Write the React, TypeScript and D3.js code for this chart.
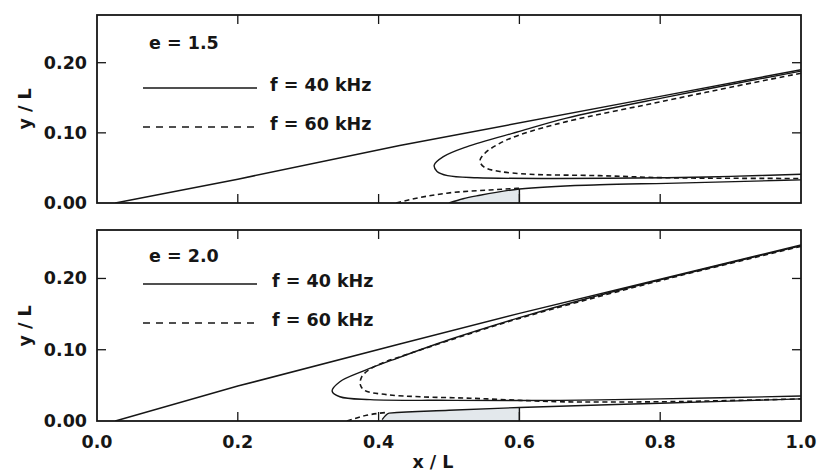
import React from 'react';
import * as d3 from 'd3';

type Pt = [number, number];

// ---- axes / labels ----
const xTicks = [0, 0.2, 0.4, 0.6, 0.8, 1.0];
const yTicks = [0, 0.1, 0.2];
const xTickLabels = ['0.0', '0.2', '0.4', '0.6', '0.8', '1.0'];
const yTickLabels = ['0.00', '0.10', '0.20'];
const panelTitles = ['e = 1.5', 'e = 2.0'];
const legendLabels = ['f = 40 kHz', 'f = 60 kHz'];
const xLabel = 'x / L';
const yLabel = 'y / L';

// ---- e = 1.5 panel ----
const wedgeE15: Pt[] = [[0.026, 0], [0.2, 0.034], [0.43, 0.082], [0.8, 0.152], [1.0, 0.19]];
const loop40E15: Pt[] = [[1.0, 0.188], [0.9, 0.169], [0.809, 0.151], [0.667, 0.121], [0.6, 0.102], [0.525, 0.080], [0.492, 0.066], [0.479, 0.054], [0.483, 0.045], [0.498, 0.039], [0.54, 0.036], [0.65, 0.035], [0.809, 0.036], [0.9, 0.038], [1.0, 0.041]];
const loop60E15: Pt[] = [[1.0, 0.185], [0.9, 0.165], [0.809, 0.146], [0.667, 0.116], [0.6, 0.097], [0.572, 0.085], [0.551, 0.071], [0.544, 0.060], [0.55, 0.051], [0.572, 0.045], [0.615, 0.041], [0.714, 0.039], [0.809, 0.036], [1.0, 0.035]];
const lower40E15: Pt[] = [[0.50, 0.0], [0.52, 0.006], [0.544, 0.011], [0.6, 0.020], [0.714, 0.026], [0.809, 0.028], [1.0, 0.033]];
const lower60E15: Pt[] = [[0.425, 0.0], [0.45, 0.006], [0.497, 0.014], [0.558, 0.0186], [0.6, 0.021]];
const shadeE15: Pt = [0.5, 0.6];

// ---- e = 2.0 panel ----
const wedgeE20: Pt[] = [[0.026, 0], [0.2, 0.049], [0.43, 0.108], [0.6, 0.151], [0.8, 0.199], [1.0, 0.247]];
const loop40E20: Pt[] = [[1.0, 0.246], [0.8, 0.198], [0.7, 0.173], [0.6, 0.145], [0.5, 0.114], [0.426, 0.088], [0.378, 0.070], [0.345, 0.055], [0.334, 0.042], [0.345, 0.034], [0.388, 0.030], [0.506, 0.029], [0.658, 0.029], [0.8, 0.031], [1.0, 0.035]];
const loop60E20: Pt[] = [[1.0, 0.245], [0.8, 0.197], [0.6, 0.144], [0.5, 0.113], [0.43, 0.090], [0.407, 0.082], [0.388, 0.073], [0.376, 0.062], [0.374, 0.051], [0.38, 0.043], [0.411, 0.037], [0.459, 0.034], [0.53, 0.032], [0.601, 0.029], [0.658, 0.027], [0.8, 0.027], [1.0, 0.031]];
const lower40E20: Pt[] = [[0.405, 0.002], [0.415, 0.011], [0.5, 0.015], [0.6, 0.019], [0.8, 0.025], [1.0, 0.031]];
const lower60E20: Pt[] = [[0.355, 0.0], [0.383, 0.008], [0.411, 0.012]];
const shadeE20: Pt = [0.405, 0.6];

const W = 817;
const H = 473;
const LEFT = 97;
const RIGHT = 801;
const INK = '#161616';
const FONT = '"DejaVu Sans", Verdana, sans-serif';
const FS = 17.5;

interface PanelProps {
  idx: number;
  top: number;
  bottom: number;
  wedge: Pt[];
  loop40: Pt[];
  loop60: Pt[];
  lower40: Pt[];
  lower60: Pt[];
  shade: Pt;
  showXLabels: boolean;
  legendY: [number, number, number];
  legendTextX: number;
  yLabelY: number;
}

function Panel(p: PanelProps) {
  const x = d3.scaleLinear().domain([0, 1]).range([LEFT, RIGHT]);
  const y = d3.scaleLinear().domain([0, 0.268]).range([p.bottom, p.top]);
  const smooth = d3.line<Pt>().x(d => x(d[0])).y(d => y(d[1])).curve(d3.curveCatmullRom.alpha(0.5));
  const mono = d3.line<Pt>().x(d => x(d[0])).y(d => y(d[1])).curve(d3.curveMonotoneX);
  const lin = d3.line<Pt>().x(d => x(d[0])).y(d => y(d[1]));
  const shadePts = p.lower40.filter(d => d[0] >= p.shade[0] - 1e-9 && d[0] <= p.shade[1] + 1e-9);
  const area = d3.area<Pt>().x(d => x(d[0])).y0(y(0)).y1(d => y(d[1])).curve(d3.curveMonotoneX);
  const endPt = shadePts[shadePts.length - 1];
  const clipId = `clip${p.idx}`;
  const tickLen = 9;
  const dash = '5,3.5';
  return (
    <g>
      <defs>
        <clipPath id={clipId}>
          <rect x={LEFT} y={p.top} width={RIGHT - LEFT} height={p.bottom - p.top} />
        </clipPath>
      </defs>
      <g clipPath={`url(#${clipId})`}>
        <path d={area(shadePts) || ''} fill="#e3e8ec" stroke="none" />
        <line x1={x(endPt[0])} x2={x(endPt[0])} y1={y(0)} y2={y(endPt[1])} stroke={INK} strokeWidth={1.4} />
        <path d={lin(p.wedge) || ''} fill="none" stroke={INK} strokeWidth={1.5} />
        <path d={smooth(p.loop40) || ''} fill="none" stroke={INK} strokeWidth={1.4} />
        <path d={smooth(p.loop60) || ''} fill="none" stroke={INK} strokeWidth={1.6} strokeDasharray={dash} />
        <path d={mono(p.lower40) || ''} fill="none" stroke={INK} strokeWidth={1.4} />
        <path d={mono(p.lower60) || ''} fill="none" stroke={INK} strokeWidth={1.6} strokeDasharray={dash} />
      </g>
      <rect x={LEFT} y={p.top} width={RIGHT - LEFT} height={p.bottom - p.top} fill="none" stroke={INK} strokeWidth={1.8} />
      {xTicks.filter(t => t > 0 && t < 1).map(t => (
        <g key={`xt${t}`}>
          <line x1={x(t)} x2={x(t)} y1={p.bottom} y2={p.bottom - tickLen} stroke={INK} strokeWidth={1.3} />
          <line x1={x(t)} x2={x(t)} y1={p.top} y2={p.top + tickLen} stroke={INK} strokeWidth={1.3} />
        </g>
      ))}
      {yTicks.filter(t => t > 0).map(t => (
        <g key={`yt${t}`}>
          <line x1={LEFT} x2={LEFT + tickLen} y1={y(t)} y2={y(t)} stroke={INK} strokeWidth={1.3} />
          <line x1={RIGHT} x2={RIGHT - tickLen} y1={y(t)} y2={y(t)} stroke={INK} strokeWidth={1.3} />
        </g>
      ))}
      {yTicks.map((t, i) => (
        <text key={`yl${t}`} x={LEFT - 10} y={y(t) + 6} textAnchor="end" fontFamily={FONT} fontWeight="bold" fontSize={FS} fill={INK}>
          {yTickLabels[i]}
        </text>
      ))}
      {p.showXLabels && xTicks.map((t, i) => (
        <text key={`xl${t}`} x={x(t)} y={p.bottom + 27} textAnchor="middle" fontFamily={FONT} fontWeight="bold" fontSize={FS} fill={INK}>
          {xTickLabels[i]}
        </text>
      ))}
      <text transform={`translate(31,${p.yLabelY}) rotate(-90)`} textAnchor="middle" fontFamily={FONT} fontWeight="bold" fontSize={FS} fill={INK}>
        {yLabel}
      </text>
      <text x={149} y={p.legendY[0]} fontFamily={FONT} fontWeight="bold" fontSize={FS} fill={INK}>{panelTitles[p.idx]}</text>
      <line x1={143} x2={257} y1={p.legendY[1]} y2={p.legendY[1]} stroke={INK} strokeWidth={1.3} />
      <text x={p.legendTextX} y={p.legendY[1] + 3} fontFamily={FONT} fontWeight="bold" fontSize={FS} fill={INK}>{legendLabels[0]}</text>
      <line x1={143} x2={257} y1={p.legendY[2]} y2={p.legendY[2]} stroke={INK} strokeWidth={1.3} strokeDasharray="7,6" />
      <text x={p.legendTextX} y={p.legendY[2] + 3} fontFamily={FONT} fontWeight="bold" fontSize={FS} fill={INK}>{legendLabels[1]}</text>
    </g>
  );
}

export default function App() {
  return (
    <svg width={W} height={H} style={{ position: 'absolute', left: 0, top: 0, background: '#fff' }}>
      <rect x={0} y={0} width={W} height={H} fill="#fff" />
      <Panel idx={0} top={15} bottom={203} wedge={wedgeE15} loop40={loop40E15} loop60={loop60E15}
        lower40={lower40E15} lower60={lower60E15} shade={shadeE15} showXLabels={false}
        legendY={[49, 88, 127]} legendTextX={270} yLabelY={109} />
      <Panel idx={1} top={230} bottom={421} wedge={wedgeE20} loop40={loop40E20} loop60={loop60E20}
        lower40={lower40E20} lower60={lower60E20} shade={shadeE20} showXLabels={true}
        legendY={[262, 284, 323]} legendTextX={272} yLabelY={326} />
      <text x={433} y={468} textAnchor="middle" fontFamily={FONT} fontWeight="bold" fontSize={FS} fill={INK}>{xLabel}</text>
    </svg>
  );
}
